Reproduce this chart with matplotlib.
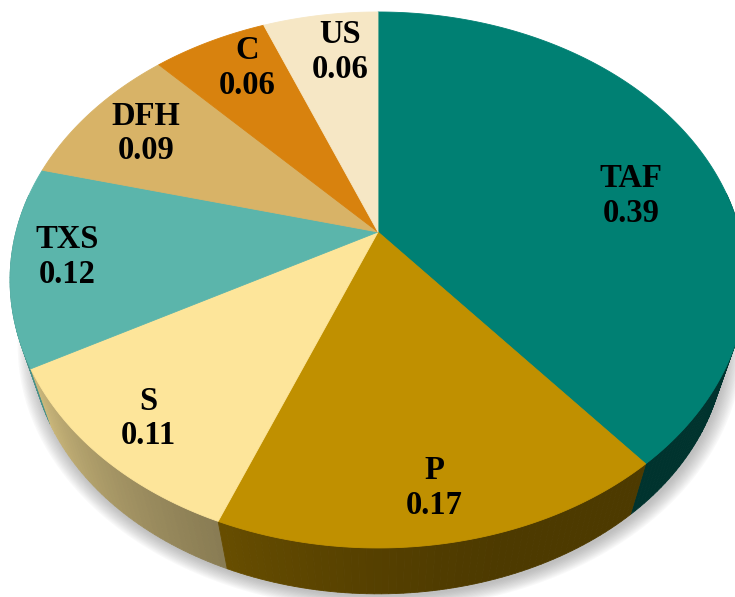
import numpy as np
import matplotlib.pyplot as plt
from matplotlib.patches import Polygon
from matplotlib.colors import to_rgb

# slice data, clockwise from 12 o'clock
labels = ["TAF", "P", "S", "TXS", "DFH", "C", "US"]
shares = [0.39, 0.17, 0.11, 0.12, 0.09, 0.06, 0.06]
top_colors = ["#008073", "#c09000", "#fde59a", "#5bb5ab", "#d8b367", "#d8820e", "#f6e7c5"]

# label placement (fraction of radius, extra turn in degrees)
label_radius = [0.73, 0.85, 0.85, 0.85, 0.80, 0.82, 0.80]
label_turn = [8.6, 0.0, 0.0, 0.8, 0.0, 2.6, 2.2]

# perspective view of the disc, in pixel units (y grows downward)
CX, CY = 378.0, 232.0
RX, RY, K = 362.0, 259.4, 0.179
VP = np.array([378.0, 1353.0])   # vanishing point of the vertical edges
DEPTH = 0.943                    # bottom face = VP + DEPTH * (top - VP)


def project(theta, r=1.0):
    u = r * np.sin(theta)
    v = r * np.cos(theta)
    w = 1 + K * v
    return np.column_stack([CX + RX * u / w, CY - RY * v / w])


def drop(pts):
    return VP + DEPTH * (pts - VP)


def side_shade(theta_deg):
    t = np.clip((theta_deg - 160) / 80, 0, 1)
    return 0.40 + 0.40 * t ** 1.6


fig = plt.figure(figsize=(7.35, 5.97), dpi=100)
ax = fig.add_axes([0, 0, 1, 1])
ax.set_xlim(0, 735)
ax.set_ylim(597, 0)
ax.axis('off')

bounds = np.concatenate([[0], np.cumsum(shares)]) * 2 * np.pi

# soft shadow under the disc
ring = project(np.linspace(0, 2 * np.pi, 400))
base = drop(ring)
for i in range(12):
    s = 1 + 0.004 * i
    c = np.array([CX, 300.0])
    shp = c + s * (base - c) + np.array([2.0, 3.0])
    ax.add_patch(Polygon(shp, closed=True, fc='#707070', ec='none', alpha=0.045, zorder=1))

# side walls, drawn back to front
strips = []
for i, col in enumerate(top_colors):
    a = np.linspace(bounds[i], bounds[i + 1], max(int(np.degrees(bounds[i + 1] - bounds[i])), 2) + 1)
    for a0, a1 in zip(a[:-1], a[1:]):
        if np.cos((a0 + a1) / 2) > 0.15:
            continue
        top = project(np.array([a0, a1]))
        bot = drop(top)
        quad = np.vstack([top, bot[::-1]])
        shade = side_shade(np.degrees((a0 + a1) / 2))
        rgb = np.array(to_rgb(col)) * shade
        strips.append((top[:, 1].mean(), quad, rgb))
strips.sort(key=lambda s: s[0])
for _, quad, rgb in strips:
    ax.add_patch(Polygon(quad, closed=True, fc=rgb, ec=rgb, lw=0.6, zorder=2))

# top face
for i, col in enumerate(top_colors):
    a = np.linspace(bounds[i], bounds[i + 1], 200)
    pts = np.vstack([[CX, CY], project(a)])
    ax.add_patch(Polygon(pts, closed=True, fc=col, ec=col, lw=0.6, zorder=3))

# labels
for i, name in enumerate(labels):
    mid = (bounds[i] + bounds[i + 1]) / 2 + np.radians(label_turn[i])
    x, y = project(np.array([mid]), label_radius[i])[0]
    ax.text(x, y, f"{name}\n{shares[i]:.2f}", ha='center', va='center',
            family='Liberation Serif', fontweight='bold', fontsize=23.5,
            linespacing=1.15, color='black', zorder=4)

fig.savefig('out.png', dpi=100)
